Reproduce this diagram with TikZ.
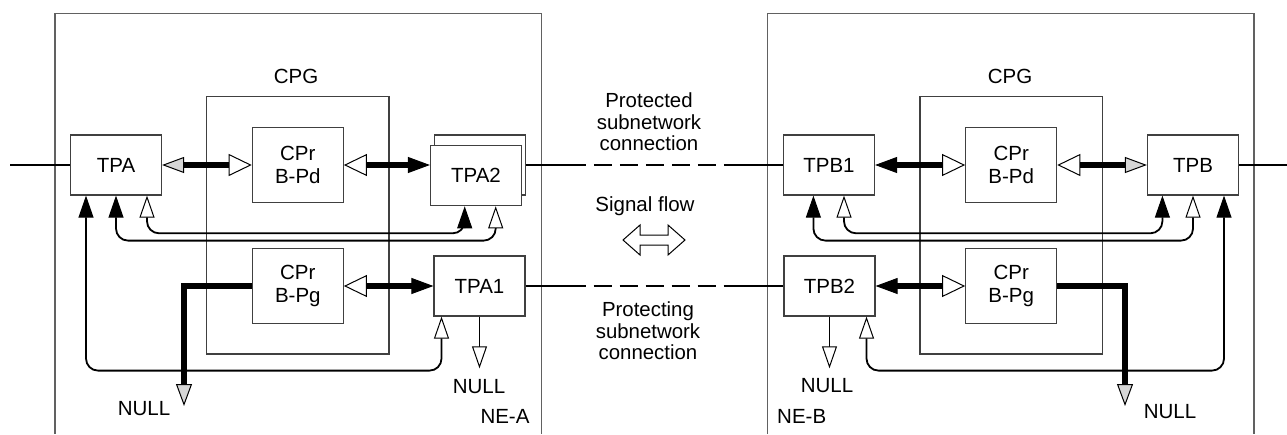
\documentclass[tikz,border=0pt]{standalone}
\usepackage{fontspec}
\setmainfont{Liberation Sans}
\usetikzlibrary{arrows.meta,calc}
\definecolor{hg}{gray}{0.84}
\definecolor{bx}{gray}{0.25}
\definecolor{fr}{gray}{0.38}
\tikzset{
  tipB/.tip={Triangle[length=22pt 0 0,width=16pt 0 0,line width=1pt 0,fill=black]},
  tipG/.tip={Triangle[length=22pt 0 0,width=16pt 0 0,line width=1pt 0,fill=hg]},
  tipWL/.tip={Triangle[length=23pt 0 0,width=22pt 0 0,line width=1pt 0,fill=white]},
  tipBt/.tip={Triangle[length=22pt 0 0,width=15pt 0 0,line width=1pt 0,fill=black]},
  tipWt/.tip={Triangle[length=22pt 0 0,width=15pt 0 0,line width=1pt 0,fill=white]},
  mainfont/.style={font=\fontsize{20.5}{23.5}\selectfont},
  box/.style={draw=bx, line width=1.2pt, fill=white, minimum width=91pt,
    minimum height=60pt, inner sep=0pt, mainfont},
  cpr/.style={box, minimum height=75.6pt, align=center},
  cpg/.style={draw=bx, line width=1.2pt, minimum width=182.5pt, minimum height=257.3pt, inner sep=0pt},
  frame/.style={draw=fr, line width=1.4pt},
  lbl/.style={inner sep=0pt, mainfont},
  midtxt/.style={inner sep=0pt, align=center, font=\fontsize{20.4}{21.7}\selectfont},
  ln/.style={line width=1.8pt},
  thk/.style={line width=5.5pt},
  thn/.style={line width=1.8pt, rounded corners=12pt},
  midln/.style={ln, dash pattern=on 60pt off 8pt on 18pt off 8pt on 18pt off 8pt on 18pt off 8pt on 18pt off 8pt on 18pt off 8pt on 200pt}
}
\begin{document}
\begin{tikzpicture}[x=1pt,y=-1pt]
\useasboundingbox (0,0) rectangle (1287,434);
% network element frames
\draw[frame] (55,434) -- (55,13.3) -- (541.5,13.3) -- (541.5,434);
\draw[frame] (767.5,434) -- (767.5,13.3) -- (1254,13.3) -- (1254,434);

% ---- NE-A ----
\node[lbl, anchor=base] (cpgAl) at (296,83.3) {CPG};
\node[cpg] (cpgA) at (297.8,225.3) {};
\node[cpr] (pdA) at (297.8,165) {CPr\\B-Pd};
\node[cpr] (pgA) at (297.8,286) {CPr\\B-Pg};
\node[box] (tpa) at (116,165) {TPA};
\node[box] (tpa2b) at (479.7,165) {};
\node[box] (tpa2) at (476,175.7) {TPA2};
\node[box] (tpa1) at (479.5,286) {TPA1};

% ---- NE-B ----
\node[lbl, anchor=base] (cpgBl) at (1010,83.3) {CPG};
\node[cpg] (cpgB) at (1011.2,225.3) {};
\node[cpr] (pdB) at (1011.2,165) {CPr\\B-Pd};
\node[cpr] (pgB) at (1011.2,286) {CPr\\B-Pg};
\node[box] (tpb1) at (829,165) {TPB1};
\node[box] (tpb) at (1193,165) {TPB};
\node[box] (tpb2) at (829.5,286) {TPB2};

% free ends
\coordinate (inA) at (10,165);
\coordinate (outB) at (1287,165);
\coordinate (nullA) at (184,406);
\coordinate (nullB) at (1125,406);
\coordinate (nA1) at (479.5,368.3);
\coordinate (nB2) at (829.5,368.3);

% external lines and subnetwork connections
\draw[ln] (inA) -- (tpa.west);
\draw[ln] (tpb.east) -- (outB);
\draw[midln] (tpa2b.east) -- (tpb1.west);
\draw[midln] (tpa1.east) -- (tpb2.west);

% NE-A thick connections
\draw[thk, {tipG}-{tipWL}] (tpa.east) -- (pdA.west);
\draw[thk, {tipWL}-{tipB}] (pdA.east) -- (tpa2.west |- pdA.east);
\draw[thk, {tipWL}-{tipB}] (pgA.east) -- (tpa1.west);
\draw[thk, -{tipG}] (pgA.west) -| (nullA);

% NE-A loops
\draw[thn, {tipBt}-{tipWt}] ([xshift=-30pt]tpa.south) -- ++(0,175) -| ([xshift=-38pt]tpa1.south);
\draw[thn, {tipBt}-{tipWt}] (tpa.south) -- ++(0,45) -| ([xshift=19.7pt]tpa2.south);
\draw[thn, {tipWt}-{tipBt}] ([xshift=31pt]tpa.south) -- ++(0,37.7) -| ([xshift=-11.3pt]tpa2.south);
\draw[ln, -{tipWt}] (tpa1.south) -- (nA1);

% NE-B thick connections
\draw[thk, {tipB}-{tipWL}] (tpb1.east) -- (pdB.west);
\draw[thk, {tipWL}-{tipG}] (pdB.east) -- (tpb.west);
\draw[thk, {tipB}-{tipWL}] (tpb2.east) -- (pgB.west);
\draw[thk, -{tipG}] (pgB.east) -| (nullB);

% NE-B loops
\draw[thn, {tipBt}-{tipWt}] ([xshift=-15.6pt]tpb1.south) -- ++(0,45) -| (tpb.south);
\draw[thn, {tipWt}-{tipBt}] ([xshift=15pt]tpb1.south) -- ++(0,37.7) -| ([xshift=-30.6pt]tpb.south);
\draw[thn, {tipBt}-{tipWt}] ([xshift=31pt]tpb.south) -- ++(0,175) -| ([xshift=37pt]tpb2.south);
\draw[ln, -{tipWt}] (tpb2.south) -- (nB2);

% labels
\node[lbl, anchor=base] (nlA) at (144,415) {NULL};
\node[lbl, anchor=base] (nlB) at (1170,418.3) {NULL};
\node[lbl, anchor=base] (nlA1) at (479,393.3) {NULL};
\node[lbl, anchor=base] (nlB2) at (827,392.5) {NULL};
\node[lbl, anchor=base] (neA) at (505,423.3) {NE-A};
\node[lbl, anchor=base] (neB) at (801.7,423.3) {NE-B};

\node[midtxt] (prd) at (649,122) {Protected\\subnetwork\\connection};
\node[lbl, anchor=base] (sig) at (645,211.7) {Signal flow};
\node[midtxt] (prg) at (648,330.8) {Protecting\\subnetwork\\connection};

% signal flow double arrow
\draw[line width=1pt] (623,240) -- (640,225) -- (640,235) -- (668,235) -- (668,225)
  -- (685,240) -- (668,255) -- (668,245) -- (640,245) -- (640,255) -- cycle;
\end{tikzpicture}
\end{document}
